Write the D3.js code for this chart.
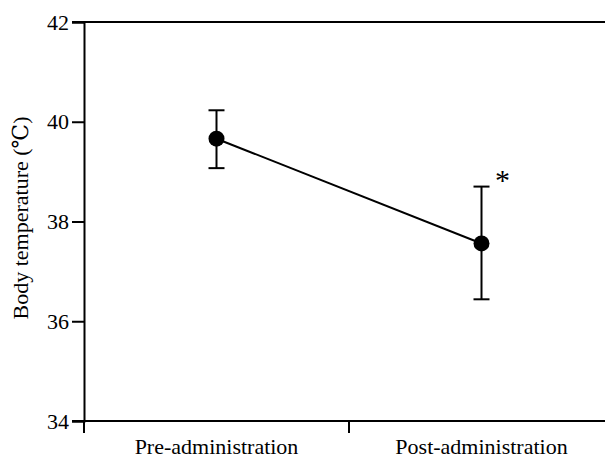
<!DOCTYPE html>
<html lang="en">
<head>
<meta charset="utf-8">
<title>Body temperature</title>
<script src="https://d3js.org/d3.v7.min.js"></script>
<style>
body { margin: 0; background: #fff; }
svg text { font-family: "Liberation Serif", "DejaVu Serif", serif; fill: #000; }
</style>
</head>
<body>
<svg width="605" height="458"></svg>
<script>
// data
var groups = ["Pre-administration", "Post-administration"];
var means = [39.66, 37.56];
var lower = [39.07, 36.44];
var upper = [40.23, 38.70];
var yTicks = [34, 36, 38, 40, 42];

var serif = "'Liberation Serif', 'DejaVu Serif', serif";
var svg = d3.select("svg");
var mLeft = 84, mRight = 614, mTop = 22, mBottom = 421;

var x = d3.scaleBand().domain(groups).range([mLeft, mRight]);
var y = d3.scaleLinear().domain([34, 42]).range([mBottom, mTop]);

// y axis
var ya = svg.append("g").attr("transform", "translate(" + mLeft + ",0)")
  .call(d3.axisLeft(y).tickValues(yTicks).tickSize(12).tickPadding(3).tickFormat(d3.format("d")))
  .attr("font-family", serif);
ya.select(".domain").attr("stroke", "#000").attr("stroke-width", 2);
ya.selectAll(".tick line").attr("stroke", "#000").attr("stroke-width", 2);
ya.selectAll(".tick text").attr("fill", "#000").style("font-family", serif)
  .style("font-size", "22px");

// top border
svg.append("line").attr("x1", mLeft - 12).attr("x2", 605).attr("y1", y(42)).attr("y2", y(42))
  .attr("stroke", "#000").attr("stroke-width", 2);

// x axis with ticks at band boundaries
var xa = svg.append("g").attr("transform", "translate(0," + mBottom + ")");
xa.append("line").attr("x1", mLeft - 12).attr("x2", 605).attr("stroke", "#000").attr("stroke-width", 2);
xa.selectAll("line.tk").data(groups).enter().append("line").attr("class", "tk")
  .attr("x1", function(d) { return x(d); }).attr("x2", function(d) { return x(d); })
  .attr("y1", 0).attr("y2", 12).attr("stroke", "#000").attr("stroke-width", 2);
xa.selectAll("text").data(groups).enter().append("text")
  .attr("x", function(d) { return x(d) + x.bandwidth() / 2; })
  .attr("y", 33).attr("text-anchor", "middle").style("font-family", serif).style("font-size", "22px")
  .text(function(d) { return d; });

// y label
svg.append("text").attr("transform", "translate(28,218) rotate(-90)")
  .attr("text-anchor", "middle").style("font-family", serif).style("font-size", "22px")
  .text("Body temperature (\u2103)");

var cx = function(i) { return x(groups[i]) + x.bandwidth() / 2; };
var idx = d3.range(groups.length);

// connecting line
svg.append("path").datum(idx)
  .attr("d", d3.line().x(function(i) { return cx(i); }).y(function(i) { return y(means[i]); }))
  .attr("fill", "none").attr("stroke", "#000").attr("stroke-width", 2);

// error bars
var eb = svg.append("g").attr("stroke", "#000").attr("stroke-width", 2);
idx.forEach(function(i) {
  eb.append("line").attr("x1", cx(i)).attr("x2", cx(i)).attr("y1", y(lower[i])).attr("y2", y(upper[i]));
  [lower[i], upper[i]].forEach(function(v) {
    eb.append("line").attr("x1", cx(i) - 8).attr("x2", cx(i) + 8).attr("y1", y(v)).attr("y2", y(v));
  });
});

svg.selectAll("circle").data(idx).enter().append("circle")
  .attr("cx", function(i) { return cx(i); }).attr("cy", function(i) { return y(means[i]); })
  .attr("r", 8).attr("fill", "#000");

// significance mark
svg.append("text").attr("x", cx(1) + 21).attr("y", y(upper[1]) + 3)
  .attr("text-anchor", "middle").style("font-family", serif).style("font-size", "30px").text("*");
</script>
</body>
</html>
